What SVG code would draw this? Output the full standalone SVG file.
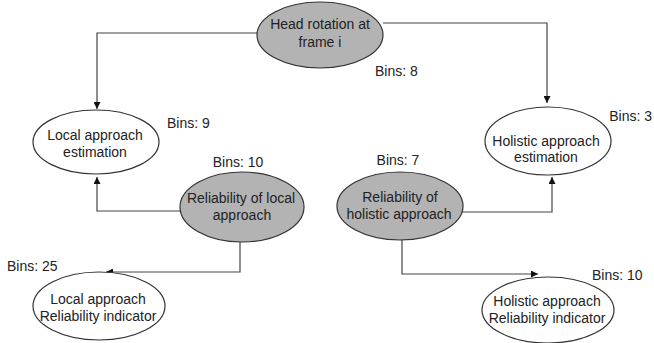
<svg xmlns="http://www.w3.org/2000/svg" width="654" height="343" viewBox="0 0 654 343">
<style>
.bg{fill:#ffffff}
.n{stroke:#333333;stroke-width:1.2}
.w{fill:#ffffff}
.g{fill:#b3b3b3}
text{font-family:"Liberation Sans",Arial,sans-serif;font-size:14px;fill:#222222}
.c{text-anchor:middle}
.r{text-anchor:end}
.e{fill:none;stroke:#444444;stroke-width:1.2}
</style>
<defs>
<marker id="ar" viewBox="0 0 10 10" refX="10" refY="5" markerWidth="7" markerHeight="7" markerUnits="userSpaceOnUse" orient="auto">
<path d="M0,0 L10,5 L0,10 z" fill="#111111"/>
</marker>
</defs>
<rect class="bg" x="0" y="0" width="654" height="343"/>
<g id="connectors">
<path class="e" d="M257,33 H97 V109" marker-end="url(#ar)"/>
<path class="e" d="M383,23 H547 V103" marker-end="url(#ar)"/>
<path class="e" d="M180,211 H97 V177" marker-end="url(#ar)"/>
<path class="e" d="M240,242 V272 H106" marker-end="url(#ar)"/>
<path class="e" d="M462,212 H552 V177" marker-end="url(#ar)"/>
<path class="e" d="M402,239 V274 H538" marker-end="url(#ar)"/>
</g>
<g id="head">
<ellipse class="n g" cx="320" cy="35" rx="63" ry="33"/>
<text class="c" x="320" y="29">Head rotation at</text>
<text class="c" x="320" y="47">frame i</text>
<text x="375" y="76">Bins: 8</text>
</g>
<g id="localEst">
<ellipse class="n w" cx="96" cy="142" rx="63" ry="32"/>
<text class="c" x="95" y="140">Local approach</text>
<text class="c" x="95" y="157">estimation</text>
<text x="167" y="128">Bins: 9</text>
</g>
<g id="holisticEst">
<ellipse class="n w" cx="548" cy="141" rx="63" ry="34"/>
<text class="c" x="546" y="146">Holistic approach</text>
<text class="c" x="546" y="162">estimation</text>
<text class="r" x="652" y="121">Bins: 3</text>
</g>
<g id="localRel">
<ellipse class="n g" cx="242" cy="207" rx="62" ry="35"/>
<text class="c" x="241" y="203">Reliability of local</text>
<text class="c" x="242" y="220">approach</text>
<text class="c" x="238" y="167">Bins: 10</text>
</g>
<g id="holisticRel">
<ellipse class="n g" cx="400" cy="206" rx="63" ry="34"/>
<text class="c" x="400" y="202">Reliability of</text>
<text class="c" x="399" y="219">holistic approach</text>
<text class="c" x="398" y="165">Bins: 7</text>
</g>
<g id="localInd">
<ellipse class="n w" cx="99" cy="306" rx="66" ry="34"/>
<text class="c" x="98" y="304">Local approach</text>
<text class="c" x="98" y="321">Reliability indicator</text>
<text x="7" y="271">Bins: 25</text>
</g>
<g id="holisticInd">
<ellipse class="n w" cx="548" cy="310" rx="66" ry="33"/>
<text class="c" x="547" y="306">Holistic approach</text>
<text class="c" x="547" y="323">Reliability indicator</text>
<text x="592" y="280">Bins: 10</text>
</g>
</svg>
